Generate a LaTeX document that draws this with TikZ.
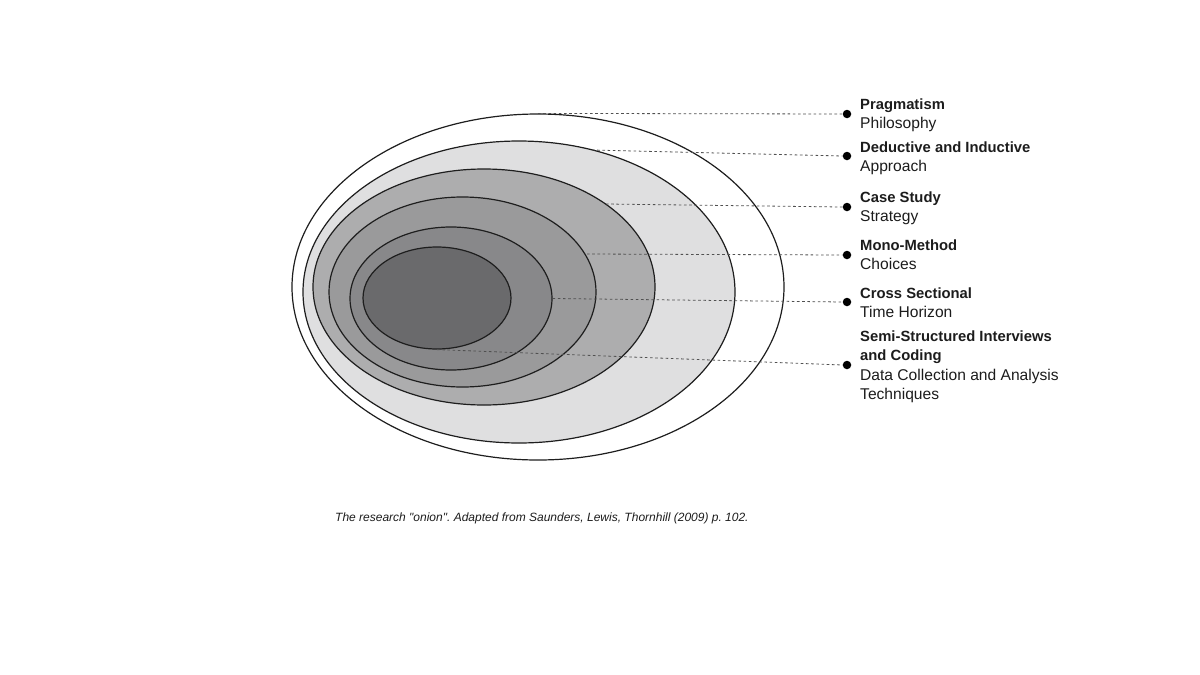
\documentclass[tikz,border=0pt]{standalone}
\usepackage{fontspec}
\setmainfont{Liberation Sans}
\usetikzlibrary{shapes.geometric}
\frenchspacing
\definecolor{ringA}{HTML}{FFFFFF}
\definecolor{ringB}{HTML}{DFDFE0}
\definecolor{ringC}{HTML}{ADADAE}
\definecolor{ringD}{HTML}{9A9A9B}
\definecolor{ringE}{HTML}{88888A}
\definecolor{ringF}{HTML}{6A6A6C}
\definecolor{inkline}{HTML}{1E1E1E}
\definecolor{leader}{HTML}{505050}
\definecolor{labelink}{HTML}{1C1C1C}
\tikzset{
  ring/.style={ellipse, draw=inkline, line width=1.2pt, inner sep=0pt},
  leaderline/.style={draw=leader, line width=0.8pt, dash pattern=on 2.6pt off 2.6pt},
  dotmark/.style={circle, fill=black, inner sep=0pt, minimum size=8.5pt},
  titletext/.style={anchor=base west, font=\fontsize{14.8}{19}\selectfont\bfseries, text=labelink, inner sep=0pt},
  subtext/.style={anchor=base west, font=\fontsize{15.6}{19}\selectfont, text=labelink, inner sep=0pt},
  captiontext/.style={anchor=base west, font=\fontsize{12}{14}\selectfont\itshape, text=labelink, inner sep=0pt}
}
\begin{document}
\begin{tikzpicture}[x=1pt,y=-1pt]
\useasboundingbox (0,0) rectangle (1200,675);
% onion rings
\node[ring, fill=ringA, minimum width=492pt, minimum height=346pt] (o1) at (538,287) {};
\node[ring, fill=ringB, minimum width=432pt, minimum height=302pt] (o2) at (519,292) {};
\node[ring, fill=ringC, minimum width=342pt, minimum height=236pt] (o3) at (484,287) {};
\node[ring, fill=ringD, minimum width=267pt, minimum height=190pt] (o4) at (462.5,292) {};
\node[ring, fill=ringE, minimum width=202pt, minimum height=143pt] (o5) at (451,298.5) {};
\node[ring, fill=ringF, minimum width=148pt, minimum height=102pt] (o6) at (437,298) {};
% leader start points
\coordinate (s1) at (o1.north);
\coordinate (s2) at (592,150);
\coordinate (s3) at (606,204);
\coordinate (s4) at (587,254);
\coordinate (s5) at (o5.east);
\coordinate (s6) at (o6.south);
% dots
\node[dotmark] (d1) at (847,114) {};
\node[dotmark] (d2) at (847,156) {};
\node[dotmark] (d3) at (847,207) {};
\node[dotmark] (d4) at (847,255) {};
\node[dotmark] (d5) at (847,302) {};
\node[dotmark] (d6) at (847,365) {};
% leaders
\draw[leaderline] (s1) -- (d1.west);
\draw[leaderline] (s2) -- (d2.west);
\draw[leaderline] (s3) -- (d3.west);
\draw[leaderline] (s4) -- (d4.west);
\draw[leaderline] (s5) -- (d5.west);
\draw[leaderline] (s6) -- (d6.west);
% labels
\node[titletext] (t1) at (860,109.3) {Pragmatism};
\node[subtext] (u1) at (860,128.3) {Philosophy};
\node[titletext] (t2) at (860,152.3) {Deductive and Inductive};
\node[subtext] (u2) at (860,171.5) {Approach};
\node[titletext] (t3) at (860,202.7) {Case Study};
\node[subtext] (u3) at (860,221.7) {Strategy};
\node[titletext] (t4) at (860,250) {Mono-Method};
\node[subtext] (u4) at (860,269) {Choices};
\node[titletext] (t5) at (860,298.3) {Cross Sectional};
\node[subtext] (u5) at (860,317.3) {Time Horizon};
\node[titletext] (t6a) at (860,341.7) {Semi-Structured Interviews};
\node[titletext] (t6b) at (860,360.7) {and Coding};
\node[subtext] (u6a) at (860,380) {Data Collection and Analysis};
\node[subtext] (u6b) at (860,399) {Techniques};
% caption
\node[captiontext] (cap) at (335,521.7) {The research \textquotedbl onion\textquotedbl. Adapted from Saunders, Lewis, Thornhill (2009) p. 102.};
\end{tikzpicture}
\end{document}
